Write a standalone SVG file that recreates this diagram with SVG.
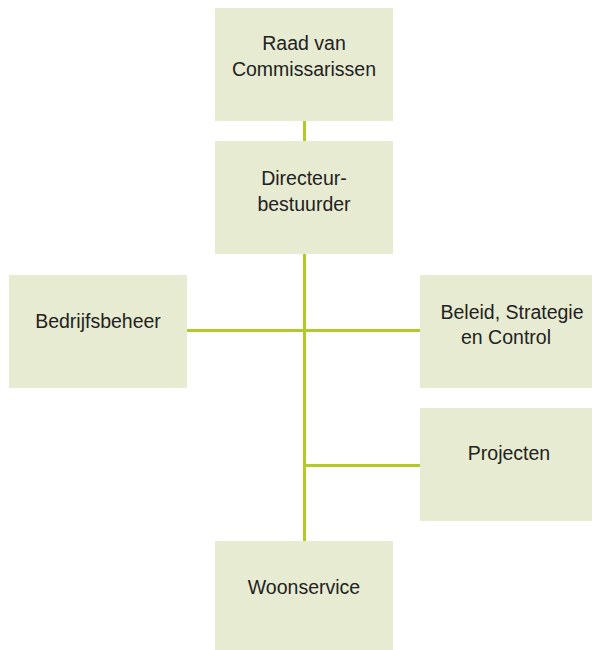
<svg xmlns="http://www.w3.org/2000/svg" width="592" height="650" viewBox="0 0 592 650">
<style>
.box{fill:#e7ebd1}
.t{font-family:"Liberation Sans",Arial,sans-serif;font-size:19.5px;fill:#222;text-anchor:middle}
.c{stroke:#b3c82c;stroke-width:3;fill:none}
</style>
<rect width="592" height="650" fill="#fff"/>
<g id="connectors">
<line class="c" x1="304.5" y1="120" x2="304.5" y2="542"/>
<line class="c" x1="186" y1="330.5" x2="421" y2="330.5"/>
<line class="c" x1="304.5" y1="465.5" x2="421" y2="465.5"/>
</g>
<g id="raad">
<rect class="box" x="215" y="8" width="178" height="113"/>
<text class="t" x="304" y="50">Raad van</text>
<text class="t" x="304" y="76">Commissarissen</text>
</g>
<g id="directeur">
<rect class="box" x="215" y="141" width="178" height="113"/>
<text class="t" x="304" y="185">Directeur-</text>
<text class="t" x="304" y="210.5">bestuurder</text>
</g>
<g id="bedrijfsbeheer">
<rect class="box" x="9" y="275" width="178" height="113"/>
<text class="t" x="98" y="328">Bedrijfsbeheer</text>
</g>
<g id="beleid">
<rect class="box" x="420" y="275" width="178" height="113"/>
<text class="t" x="512" y="319">Beleid, Strategie</text>
<text class="t" x="506" y="343.5">en Control</text>
</g>
<g id="projecten">
<rect class="box" x="420" y="408" width="178" height="113"/>
<text class="t" x="509" y="460">Projecten</text>
</g>
<g id="woonservice">
<rect class="box" x="215" y="541" width="178" height="113"/>
<text class="t" x="304" y="593.5">Woonservice</text>
</g>
</svg>
